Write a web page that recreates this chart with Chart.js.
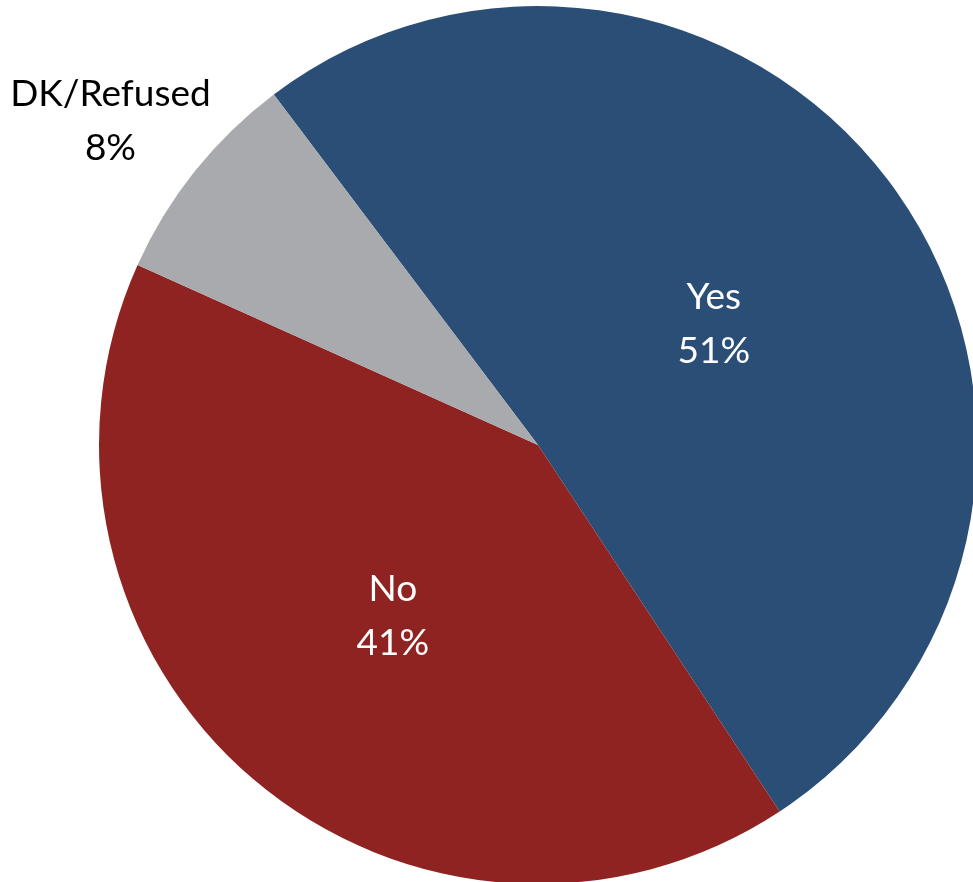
<!DOCTYPE html>
<html>
<head>
<meta charset="utf-8">
<script src="https://cdn.jsdelivr.net/npm/chart.js@4/dist/chart.umd.min.js"></script>
<style>
  html, body { margin: 0; padding: 0; background: #fff; overflow: hidden; }
  #wrap { position: absolute; left: 0; top: 0; width: 1076px; height: 890px; }
</style>
</head>
<body>
<div id="wrap"><canvas id="myChart" width="1076" height="890"></canvas></div>
<script>
const ctx = document.getElementById('myChart');

const categories = ['Yes', 'No', 'DK/Refused'];
const shares = [51, 41, 8];
const sliceColors = ['#2a4e76', '#8e2322', '#a9aaae'];
const labelColors = ['#ffffff', '#ffffff', '#000000'];
// how far out (as a fraction of the radius) each label sits, plus a small pixel nudge
const labelRadius = [0.49, 0.51, 1.22];
const labelNudge = [[0, 3], [0, 1], [-9, 10]];

const FONT = '37px Lato, "Open Sans", sans-serif';

// writes category + percent inside (or outside) each slice
const sliceLabels = {
    id: 'sliceLabels',
    afterDatasetsDraw(chart) {
        const g = chart.ctx;
        const arcs = chart.getDatasetMeta(0).data;
        g.save();
        g.font = FONT;
        g.textAlign = 'center';
        g.textBaseline = 'middle';
        arcs.forEach((arc, i) => {
            const { x, y, startAngle, endAngle, outerRadius } = arc.getProps(['x', 'y', 'startAngle', 'endAngle', 'outerRadius'], true);
            const mid = (startAngle + endAngle) / 2;
            const r = outerRadius * labelRadius[i];
            const cx = x + Math.cos(mid) * r + labelNudge[i][0];
            const cy = y + Math.sin(mid) * r + labelNudge[i][1];
            g.fillStyle = labelColors[i];
            g.fillText(categories[i], cx, cy - 27);
            g.fillText(shares[i] + '%', cx, cy + 27);
        });
        g.restore();
    }
};

const data = {
    labels: categories,
    datasets: [{
        data: shares,
        backgroundColor: sliceColors,
        borderWidth: 0
    }]
};

const config = {
    type: 'pie',
    data: data,
    options: {
        responsive: false,
        animation: false,
        rotation: -37,
        layout: { padding: { top: 6, bottom: 6, left: 0, right: 0 } },
        plugins: {
            legend: { display: false },
            tooltip: { enabled: false }
        }
    },
    plugins: [sliceLabels]
};

const chart = new Chart(ctx, config);
</script>
</body>
</html>
